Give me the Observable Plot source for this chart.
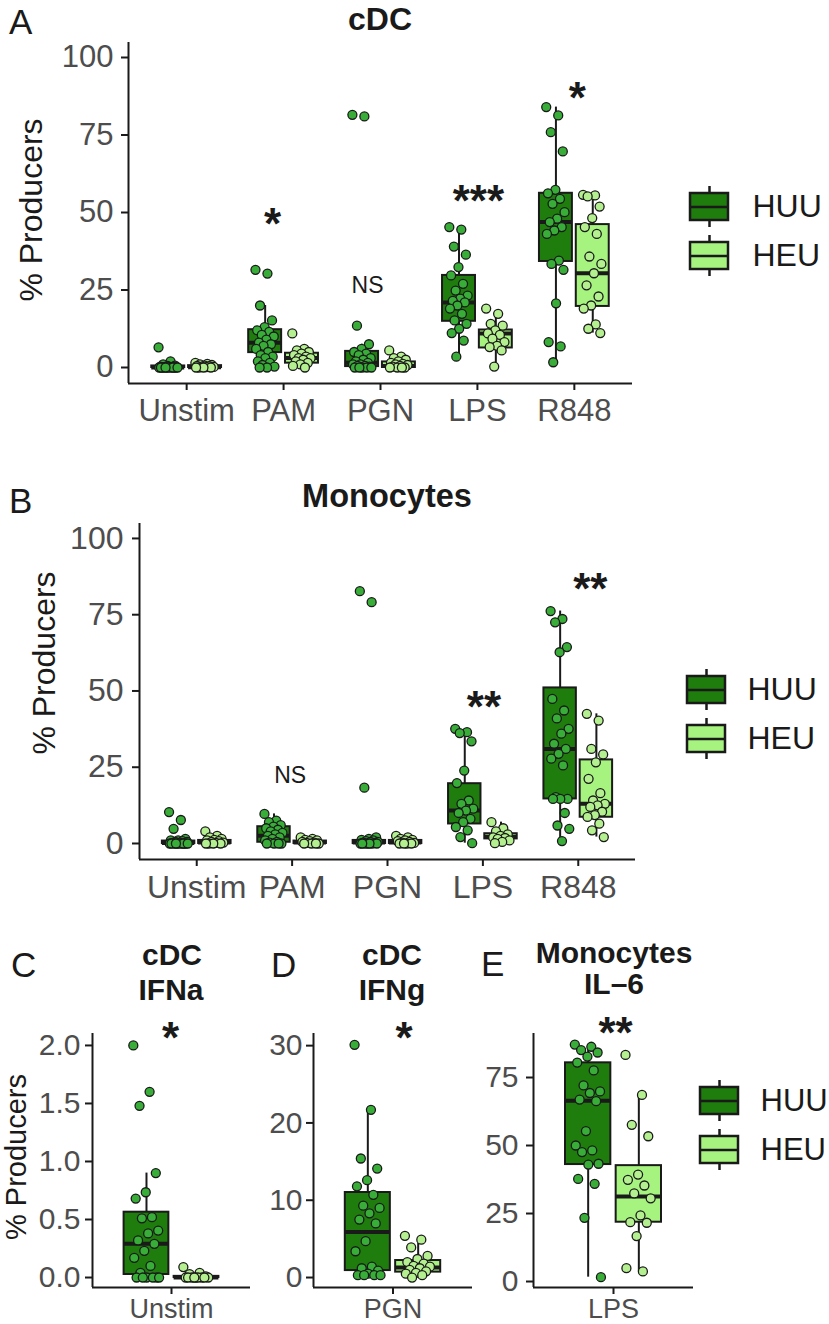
<!DOCTYPE html>
<html><head><meta charset="utf-8">
<script src="https://cdn.jsdelivr.net/npm/d3@7"></script>
<script src="https://cdn.jsdelivr.net/npm/@observablehq/plot@0.6"></script>
<style>
body{margin:0;background:#fff;}
#fig{position:relative;width:829px;height:1324px;overflow:hidden;background:#fff;font-family:"Liberation Sans",Arial,sans-serif;color:#1a1a1a;}
.t{position:absolute;line-height:1;white-space:nowrap;}
svg g[aria-label$="tick label"]{fill:#4d4d4d;}
</style></head>
<body><div id="fig"></div>
<script>
// ---------- categories ----------
const stims = ["Unstim","PAM","PGN","LPS","R848"];
const groups = ["HUU","HEU"];
const mainTicks = [0,25,50,75,100];

// ---------- Panel A: cDC (% producers) ----------
const cdcUnstimHUU = [6.5,2,1,0.6,0.5,0.3,0.2,0.2,0.1,0.1,0,0,0,0,0,0,0,0,0,0,0,0];
const cdcUnstimHEU = [1.5,1.2,1,0.8,0.6,0.5,0.4,0.3,0.2,0.1,0,0,0,0];
const cdcPamHUU = [31.5,30.3,20,15.2,13,12,11.5,10.5,10,9,8,7.5,7,6,5,4,3.5,3,2,1.5,0.8,0.3,0,0];
const cdcPamHEU = [11,6,5.5,5,4.5,4,3.5,3,3,2.5,2,1.5,1,0.5,0];
const cdcPgnHUU = [81.5,81,13.5,7.5,6,5,4.5,4,3,2.5,2,1.5,1,1,0.5,0.5,0.3,0,0,0,0,0];
const cdcPgnHEU = [5.5,3.5,3,2.5,2,1.5,1.2,1,0.8,0.5,0.3,0,0,0,0];
const cdcLpsHUU = [45.3,44.5,39,36.4,32.4,29.7,27,24.8,23.2,22.2,21.5,21,20,19,17.3,15.2,14.1,12.5,11.1,8.7,3.5];
const cdcLpsHEU = [19,17.3,14.1,13.5,12,11,10.5,9.3,8.2,7,6.6,5.5,0.3];
const cdcR848HUU = [84,81.3,75.9,69.7,57.3,56.2,54.4,52.8,50.1,48,46.9,45.3,44.2,43.1,34.5,33.4,31.5,20.7,8.2,6.8,1.7];
const cdcR848HEU = [55.7,55.5,55.2,51.9,48.2,45.3,43.1,35.8,33.4,30.4,26.5,22.9,20,19,13.9,12.5,11.1];
// box stats [lower whisker, Q1, median, Q3, upper whisker] per stimulus
const cdcBoxHUU = [[0,0,0,0.5,1],[0,4.8,8,12.2,20],[0,0.3,1.5,5.2,7.5],[3.5,14.9,21,29.7,45.3],[1.7,34.2,46.9,56.2,84]];
const cdcBoxHEU = [[0,0,0.1,0.6,1.5],[0,1.4,3.1,4.6,6],[0,0,0.5,1.8,3.5],[0.3,6.3,11,12.1,18],[11.1,19.7,30.4,46.1,55.7]];
const cdcNoteStim = ["PAM","PGN","LPS","R848"];
const cdcNoteLabel = ["*","NS","***","*"];
const cdcNoteY = [49.7,26.5,57.1,90.3];

// ---------- Panel B: Monocytes ----------
const monoUnstimHUU = [10.3,7.7,4.8,1.5,1,1,0.8,0.5,0.5,0.3,0.2,0,0,0,0,0,0,0,0,0,0,0];
const monoUnstimHEU = [4,2.5,2,1.5,1.2,1,0.8,0.5,0.3,0.2,0,0,0,0];
const monoPamHUU = [9.7,7.5,7,6,5.5,5,4.5,4,3.5,3,2.5,2,1.5,1,0.5,0.3,0,0,0,0];
const monoPamHEU = [2,1.5,1.2,1,0.8,0.5,0.3,0.2,0,0,0,0];
const monoPgnHUU = [82.7,79.1,18.3,2,1.5,1.2,1,0.8,0.5,0.5,0.3,0.2,0,0,0,0,0,0,0];
const monoPgnHEU = [2.5,2,1.5,1.2,1,0.8,0.5,0.3,0.2,0,0,0,0];
const monoLpsHUU = [37.6,36.5,36.2,33.5,23.9,19.8,14.1,13,11.4,10.8,10,8.1,7,5.4,4.3,2.1,0.1];
const monoLpsHEU = [7,5,4,3,2.5,2,1.8,1.5,1,0.5,0.1];
const monoR848HUU = [76.2,73.6,72.5,64.4,62.7,47.4,43.6,41,37.6,36,32.7,31,29.4,27.8,25.6,15.2,14.6,14.6,14.6,10,5.9,4.8,0.8];
const monoR848HEU = [42.5,40.3,31,29.2,26.6,21.2,16.5,14.1,13,12.5,12,10.4,9.3,8.7,6.5,4.3,2.1];
const monoBoxHUU = [[0,0,0.2,0.8,1.5],[0,0.4,2.5,5.5,9.7],[0,0,0.3,1,2],[0.1,6.4,10.8,19.6,37.6],[0.8,14.6,31,51,76.2]];
const monoBoxHEU = [[0,0,0.3,1,2.5],[0,0,0.3,0.8,2],[0,0,0.3,1,2.5],[0.1,1.5,2.2,3.2,7],[2.1,8.6,13,27.4,42.5]];
const monoNoteStim = ["PAM","LPS","R848"];
const monoNoteLabel = ["NS","**","**"];
const monoNoteY = [22.3,47.9,86.9];

// ---------- Panel C: cDC IFNa, Unstim ----------
const ifnaHUU = [2.0,1.6,1.48,0.9,0.735,0.68,0.52,0.51,0.405,0.38,0.32,0.29,0.23,0.17,0.1,0.04,0,0,0,0,0,0];
const ifnaHEU = [0.09,0.04,0.03,0.01,0,0,0,0,0,0,0,0,0];
const ifnaBoxHUU = [[0,0.026,0.29,0.563,0.9]];
const ifnaBoxHEU = [[0,0,0,0.01,0.04]];
const ifnaTicks = [0,0.5,1,1.5,2];
// ---------- Panel D: cDC IFNg, PGN ----------
const ifngHUU = [30.1,21.7,15.4,14.1,12.6,11.8,10.7,9.3,9.0,8.3,7.5,7.0,4.7,3.4,1.4,1.2,0.9,0.5,0.3,0.3,0.3,0.3];
const ifngHEU = [5.4,4.9,3.9,2.8,2.4,2.0,1.8,1.5,1.4,1.2,1.0,0.8,0.6,0.5,0.3,0.0];
const ifngBoxHUU = [[0.3,0.9,5.9,11.0,21.7]];
const ifngBoxHEU = [[0,0.7,1.3,2.2,4.4]];
const ifngTicks = [0,10,20,30];
// ---------- Panel E: Monocytes IL-6, LPS ----------
const il6HUU = [87.1,86.3,85.1,84.2,82.7,80.5,77.6,72.1,69.9,69.3,66.9,66.3,55.3,50,48.2,47.6,43.3,43,37.7,35.9,23.4,1.6];
const il6HEU = [83.3,68.6,57.6,53.4,39.3,37.4,35.3,32.4,30.6,24.3,21.8,21.6,16.7,4.9,3.7];
const il6BoxHUU = [[1.6,43,66.5,80.4,87.1]];
const il6BoxHEU = [[3.7,21.8,31.3,42.6,68.6]];
const il6Ticks = [0,25,50,75];

// ---------- styling ----------
const BOX = {HUU:"#1f7d0d", HEU:"#a6f47f"};
const PT = {HUU:"#38ad38", HEU:"#b5f090"};
const INK = "#1a1a1a";
const OFF = {HUU:-0.19, HEU:0.19};
const HALF = 0.17;
const FONT = "'Liberation Sans', Arial, sans-serif";
const fig = document.getElementById("fig");

function jit(i){ return ((i*0.618034)%1 - 0.5)*0.2; }

function tables(stimList, huuLists, heuLists, huuBoxes, heuBoxes){
  const pts = [], boxes = [];
  stimList.forEach((s, k) => {
    [["HUU", huuLists[k], huuBoxes[k]], ["HEU", heuLists[k], heuBoxes[k]]].forEach(([g, vals, b]) => {
      const cx = k + 1 + OFF[g];
      vals.forEach((v, i) => pts.push({g, x: cx + jit(i), v}));
      boxes.push({g, x: cx, lo:b[0], q1:b[1], med:b[2], q3:b[3], hi:b[4]});
    });
  });
  return {pts, boxes};
}

function panel(o){
  const n = o.stimList.length;
  const x0 = 0.4, x1 = n + 0.6;
  const [y0, y1] = o.yDomain;
  const {pts, boxes} = tables(o.stimList, o.huu, o.heu, o.boxHuu, o.boxHeu);
  const notes = o.noteStim.map((s, i) => ({x: o.stimList.indexOf(s) + 1, y: o.noteY[i], label: o.noteLabel[i], dx: o.noteDx[i]}));
  const marks = [];
  for (const g of groups) {
    const bx = boxes.filter(d => d.g === g);
    marks.push(Plot.ruleX(bx, {x:"x", y1:"lo", y2:"hi", stroke:INK, strokeWidth:2}));
    marks.push(Plot.rect(bx, {x1:d=>d.x-HALF, x2:d=>d.x+HALF, y1:"q1", y2:"q3", fill:BOX[g], stroke:INK, strokeWidth:2}));
    marks.push(Plot.ruleY(bx, {y:"med", x1:d=>d.x-HALF, x2:d=>d.x+HALF, stroke:INK, strokeWidth:4}));
  }
  for (const g of groups) {
    marks.push(Plot.dot(pts.filter(d => d.g === g), {x:"x", y:"v", r:4.5, fill:PT[g], stroke:INK, strokeWidth:1.3}));
  }
  for (const nt of notes) {
    const star = nt.label.includes("*");
    marks.push(Plot.text([nt], {x:"x", y:"y", text:"label", dx: nt.dx, dy: star ? 11 : 0,
      fontSize: star ? 44 : 23, fontWeight: star ? "bold" : "normal", fill: INK}));
  }
  marks.push(Plot.ruleX([x0], {y1:y0, y2:y1, stroke:INK, strokeWidth:2}));
  marks.push(Plot.ruleY([y0], {x1:x0, x2:x1, stroke:INK, strokeWidth:2}));
  marks.push(Plot.axisY({ticks:o.yTicks, tickFormat:o.yFmt, tickSize:7, tickPadding:o.yPad, fontSize:o.fs, strokeWidth:2, stroke:INK, label:null}));
  marks.push(Plot.axisX({ticks:d3.range(1, n+1), tickFormat:i=>o.stimList[i-1], tickSize:7, tickPadding:o.xPad, fontSize:o.xfs || o.fs, strokeWidth:2, stroke:INK, label:null}));
  const svg = Plot.plot({
    width:o.width, height:o.height,
    marginLeft:o.mL, marginRight:o.mR, marginTop:o.mT, marginBottom:o.mB,
    style:`position:absolute;left:${o.left}px;top:${o.top}px;max-width:none;background:transparent;font-family:${FONT};overflow:visible;`,
    x:{domain:[x0, x1]}, y:{domain:[y0, y1]},
    marks
  });
  fig.appendChild(svg);
}

function legend(left, top, textX, fs){
  const cy = g => 24.5 + 49*groups.indexOf(g);
  const svg = Plot.plot({
    width:150, height:98, margin:0,
    style:`position:absolute;left:${left}px;top:${top}px;max-width:none;background:transparent;font-family:${FONT};`,
    x:{type:"identity", axis:null}, y:{type:"identity", axis:null},
    marks:[
      Plot.ruleX(groups, {x:22, y1:g=>cy(g)-20.5, y2:g=>cy(g)+20.5, stroke:INK, strokeWidth:2.5}),
      ...groups.map(g => Plot.rect([g], {x1:3, x2:41, y1:d=>cy(d)-13.5, y2:d=>cy(d)+13.5, fill:BOX[g], stroke:INK, strokeWidth:2.5})),
      Plot.ruleY(groups, {y:cy, x1:3, x2:41, stroke:INK, strokeWidth:2.5}),
      Plot.text(groups, {x:textX, y:cy, text:d=>d, textAnchor:"start", fontSize:fs, fill:INK})
    ]
  });
  fig.appendChild(svg);
}

function label(txt, left, top, size, opts={}){
  const d = document.createElement("div");
  d.className = "t";
  d.textContent = txt;
  d.style.fontSize = size + "px";
  d.style.left = left + "px";
  d.style.top = top + "px";
  if (opts.bold) d.style.fontWeight = "bold";
  let tf = opts.center ? "translate(-50%,-50%)" : "translateY(-50%)";
  if (opts.rotate) tf += " rotate(-90deg)";
  d.style.transform = tf;
  d.style.color = opts.color || INK;
  fig.appendChild(d);
}

// Panel A
panel({stimList:stims,
  huu:[cdcUnstimHUU,cdcPamHUU,cdcPgnHUU,cdcLpsHUU,cdcR848HUU],
  heu:[cdcUnstimHEU,cdcPamHEU,cdcPgnHEU,cdcLpsHEU,cdcR848HEU],
  boxHuu:cdcBoxHUU, boxHeu:cdcBoxHEU,
  noteStim:cdcNoteStim, noteLabel:cdcNoteLabel, noteY:cdcNoteY, noteDx:[-11,-13,1,3],
  yDomain:[-5.16,104.84], yTicks:mainTicks, yFmt:d=>String(d),
  left:0, top:30, width:640, height:400, mL:128, mR:8, mT:12, mB:47, yPad:8, xPad:8, fs:31});
// Panel B
panel({stimList:stims,
  huu:[monoUnstimHUU,monoPamHUU,monoPgnHUU,monoLpsHUU,monoR848HUU],
  heu:[monoUnstimHEU,monoPamHEU,monoPgnHEU,monoLpsHEU,monoR848HEU],
  boxHuu:monoBoxHUU, boxHeu:monoBoxHEU,
  noteStim:monoNoteStim, noteLabel:monoNoteLabel, noteY:monoNoteY, noteDx:[-2,1,12],
  yDomain:[-5.25,104.9], yTicks:mainTicks, yFmt:d=>String(d),
  left:0, top:505, width:640, height:420, mL:139, mR:5, mT:18, mB:66, yPad:9, xPad:9, fs:32});
// Panel C
panel({stimList:["Unstim"], huu:[ifnaHUU], heu:[ifnaHEU], boxHuu:ifnaBoxHUU, boxHeu:ifnaBoxHEU,
  noteStim:["Unstim"], noteLabel:["*"], noteY:[2.155], noteDx:[-1],
  yDomain:[-0.086,2.103], yTicks:ifnaTicks, yFmt:d3.format(".1f"),
  left:0, top:1000, width:260, height:324, mL:92, mR:10, mT:33, mB:37, yPad:5, xPad:4, fs:30, xfs:27});
// Panel D
panel({stimList:["PGN"], huu:[ifngHUU], heu:[ifngHEU], boxHuu:ifngBoxHUU, boxHeu:ifngBoxHEU,
  noteStim:["PGN"], noteLabel:["*"], noteY:[32.34], noteDx:[11],
  yDomain:[-1.29,31.57], yTicks:ifngTicks, yFmt:d=>String(d),
  left:260, top:1000, width:220, height:324, mL:53, mR:8, mT:33, mB:37, yPad:4, xPad:4, fs:30, xfs:27});
// Panel E
panel({stimList:["LPS"], huu:[il6HUU], heu:[il6HEU], boxHuu:il6BoxHUU, boxHeu:il6BoxHEU,
  noteStim:["LPS"], noteLabel:["**"], noteY:[95.2], noteDx:[2],
  yDomain:[-2.2,91.18], yTicks:il6Ticks, yFmt:d=>String(d),
  left:480, top:1000, width:220, height:324, mL:53, mR:7, mT:33, mB:37, yPad:8, xPad:4, fs:30, xfs:27});

// legends
legend(687, 182, 65, 32);
legend(684, 665, 63, 32);
legend(697, 1076, 63, 31);

// titles, panel letters, axis titles
label("A", 9, 21, 35);
label("cDC", 380, 19, 32, {bold:true, center:true});
label("% Producers", 31, 210, 32, {center:true, rotate:true});
label("B", 9, 500, 35);
label("Monocytes", 387, 496, 32.5, {bold:true, center:true});
label("% Producers", 44, 663, 32, {center:true, rotate:true});
label("C", 11, 964, 35);
label("cDC", 172, 955, 30, {bold:true, center:true});
label("IFNa", 171, 990, 30, {bold:true, center:true});
label("% Producers", 16, 1157, 29, {center:true, rotate:true});
label("D", 271, 964, 35);
label("cDC", 392, 955, 30, {bold:true, center:true});
label("IFNg", 392, 990, 30, {bold:true, center:true});
label("E", 481, 963, 35);
label("Monocytes", 614, 953, 30, {bold:true, center:true});
label("IL\u20136", 614, 984, 30, {bold:true, center:true});
</script>
</body></html>
